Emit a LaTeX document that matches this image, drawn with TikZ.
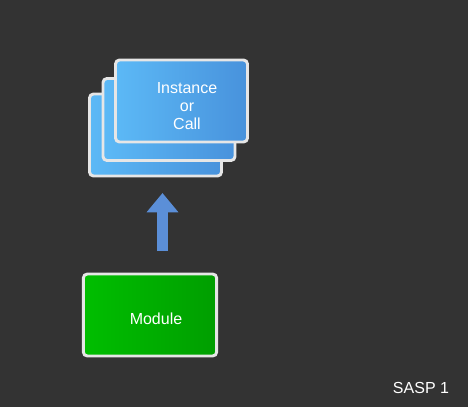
\documentclass[tikz,border=0pt]{standalone}
\usepackage{fontspec}
\setmainfont{Liberation Sans}
\usepackage{xcolor}
\definecolor{slideGray}{HTML}{333333}
\definecolor{cardLight}{HTML}{5CB9F6}
\definecolor{cardDark}{HTML}{4892DC}
\definecolor{moduleLight}{HTML}{00BE00}
\definecolor{moduleDark}{HTML}{009E00}
\definecolor{edgeGray}{HTML}{E6E6E6}
\definecolor{arrowBlue}{HTML}{5B8FD8}
\usetikzlibrary{arrows.meta}

\tikzset{
  card/.style={draw=edgeGray, line width=2.2pt, rounded corners=3pt,
    minimum width=99pt, minimum height=61.5pt, shading angle=135,
    left color=cardLight, right color=cardDark, inner sep=0pt},
  modbox/.style={draw=edgeGray, line width=2.2pt, rounded corners=3pt,
    minimum width=100pt, minimum height=61.5pt, shading angle=135,
    left color=moduleLight, right color=moduleDark, inner sep=0pt},
  label/.style={text=white, font=\fontsize{12}{13.5}\selectfont, align=center}
}

\begin{document}
\begin{tikzpicture}[x=0.75pt, y=-0.75pt]
  % page
  \fill[slideGray] (0,0) rectangle (468,407);
  \useasboundingbox (0,0) rectangle (468,407);
  % stack of cards, back to front
  \node[card] (back) at (155.5,135) {};
  \node[card] (middle) at (169,119.5) {};
  \node[card] (front) at (181.5,101) {};
  \node[label] (kind) at (187,106) {Instance\\or\\Call};
  % module
  \node[modbox] (module) at (150,315) {};
  \node[label] (modname) at (156,319) {Module};
  % block arrow
  \coordinate (tail) at (162.5,251);
  \coordinate (tip) at (162.5,193);
  \draw[arrowBlue, line width=8.3pt,
    -{Triangle[length=14.5pt, width=23pt]}] (tail) -- (tip);
  % slide number
  \node[label] (num) at (421,388) {SASP 1};
\end{tikzpicture}
\end{document}
